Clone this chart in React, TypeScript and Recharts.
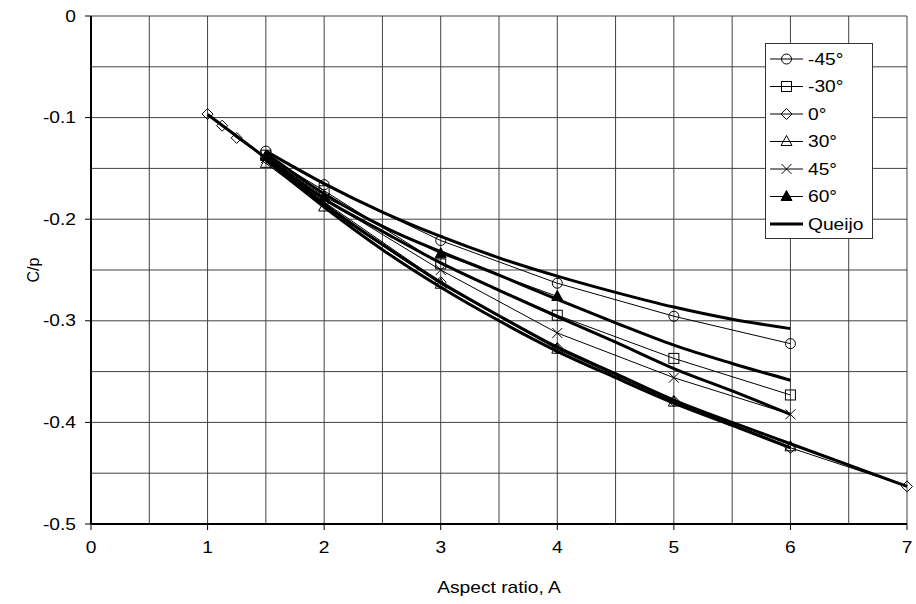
import { LineChart, Line, XAxis, YAxis, CartesianGrid, Legend } from 'recharts';

const FONT = '"Liberation Sans", Arial, sans-serif';
const STRETCH = 1.2;
const TICK_SIZE = 6;
const X_TICK_MARGIN = 12;
const Y_TICK_MARGIN = 9;

// aspect ratios (x) of each series
const aspectMain = [1.5, 2, 3, 4, 5, 6];
const aspectZero = [1, 1.125, 1.25, 1.5, 2, 3, 4, 5, 6, 7];
const aspect60 = [1.5, 2, 3, 4];
const aspectQueijo = [1.5, 2, 2.5, 3, 3.5, 4, 4.5, 5, 5.5, 6];
const aspectQueijoZero = [1, 1.5, 2, 2.5, 3, 3.5, 4, 4.5, 5, 5.5, 6, 7];

// measured C/p per angle
const cpMinus45 = [-0.133, -0.166, -0.221, -0.263, -0.2955, -0.3225];
const cpMinus30 = [-0.137, -0.172, -0.244, -0.2945, -0.337, -0.373];
const cpZero = [-0.0965, -0.108, -0.12, -0.14, -0.183, -0.262, -0.327, -0.379, -0.425, -0.463];
const cp30 = [-0.145, -0.188, -0.264, -0.328, -0.38, -0.424];
const cp45 = [-0.14, -0.18, -0.25, -0.312, -0.356, -0.392];
const cp60 = [-0.138, -0.178, -0.234, -0.276];

// Queijo curves
const queijoMinus45 = [-0.133, -0.165, -0.193, -0.217, -0.238, -0.256, -0.272, -0.2865, -0.2985, -0.3077];
const queijoMinus30 = [-0.135, -0.175, -0.207, -0.232, -0.255, -0.279, -0.302, -0.324, -0.342, -0.3585];
const queijo45 = [-0.138, -0.18, -0.212, -0.243, -0.27, -0.296, -0.321, -0.347, -0.369, -0.392];
const queijo30 = [-0.142, -0.188, -0.23, -0.267, -0.3, -0.33, -0.356, -0.381, -0.403, -0.425];
const queijoZero = [-0.097, -0.14, -0.185, -0.225, -0.262, -0.295, -0.326, -0.352, -0.378, -0.4, -0.421, -0.463];

const xTicks = [0, 0.5, 1, 1.5, 2, 2.5, 3, 3.5, 4, 4.5, 5, 5.5, 6, 6.5, 7];
const yTicks = [0, -0.05, -0.1, -0.15, -0.2, -0.25, -0.3, -0.35, -0.4, -0.45, -0.5];

const legendNames = ['-45°', '-30°', '0°', '30°', '45°', '60°', 'Queijo'];
const legendKinds = ['circle', 'square', 'diamond', 'triangle', 'cross', 'filled', 'none'];

const toPoints = (xs: number[], ys: number[]) => xs.map((a, i) => ({ a, cp: ys[i] }));

function Marker({ kind, cx, cy }: { kind: string; cx: number; cy: number }) {
  const common = { fill: 'none', stroke: '#000', strokeWidth: 1 };
  switch (kind) {
    case 'circle':
      return <circle cx={cx} cy={cy} r={5} {...common} />;
    case 'square':
      return <rect x={cx - 5} y={cy - 5} width={10} height={10} {...common} />;
    case 'diamond':
      return <path d={`M${cx},${cy - 5.5}L${cx + 5.5},${cy}L${cx},${cy + 5.5}L${cx - 5.5},${cy}Z`} {...common} />;
    case 'triangle':
      return <path d={`M${cx},${cy - 6}L${cx + 5.5},${cy + 4}L${cx - 5.5},${cy + 4}Z`} {...common} />;
    case 'cross':
      return <path d={`M${cx - 5},${cy - 5}L${cx + 5},${cy + 5}M${cx + 5},${cy - 5}L${cx - 5},${cy + 5}`} {...common} />;
    case 'filled':
      return <path d={`M${cx},${cy - 6}L${cx + 5.5},${cy + 4}L${cx - 5.5},${cy + 4}Z`} fill="#000" stroke="#000" />;
    default:
      return null;
  }
}

function WideText({ x, y, anchor, dy, children }: any) {
  return (
    <text
      transform={`translate(${x},${y}) scale(${STRETCH},1)`}
      textAnchor={anchor}
      dy={dy}
      fontSize={16}
      fontFamily={FONT}
      fill="#000"
    >
      {children}
    </text>
  );
}

const isStep = (v: number, step: number) => Math.abs(v / step - Math.round(v / step)) < 1e-6;

function XTick(props: any) {
  const { x, y, payload } = props;
  if (!isStep(payload.value, 1)) return <g />;
  return (
    <g>
      <line x1={x} x2={x} y1={y - X_TICK_MARGIN - TICK_SIZE} y2={y - X_TICK_MARGIN} stroke="#000" />
      <WideText x={x} y={y} anchor="middle" dy="0.71em">{payload.value}</WideText>
    </g>
  );
}

function YTick(props: any) {
  const { x, y, payload } = props;
  if (!isStep(payload.value, 0.1)) return <g />;
  const v = payload.value;
  return (
    <g>
      <line x1={x + Y_TICK_MARGIN} x2={x + Y_TICK_MARGIN + TICK_SIZE} y1={y} y2={y} stroke="#000" />
      <WideText x={x} y={y} anchor="end" dy="0.355em">{Math.abs(v) < 1e-9 ? '0' : v.toFixed(1)}</WideText>
    </g>
  );
}

function LegendBox() {
  return (
    <svg width={108} height={197} style={{ display: 'block' }}>
      <rect x={0.5} y={0.5} width={107} height={195} fill="#fff" stroke="#333" />
      {legendNames.map((name, i) => {
        const cy = 16 + i * 27.5;
        const thick = legendKinds[i] === 'none';
        return (
          <g key={name}>
            <line x1={5} x2={38} y1={cy} y2={cy} stroke="#000" strokeWidth={thick ? 3 : 1} />
            <Marker kind={legendKinds[i]} cx={21.5} cy={cy} />
            <WideText x={43} y={cy} anchor="start" dy="0.355em">{name}</WideText>
          </g>
        );
      })}
    </svg>
  );
}

const measured = [
  { pts: toPoints(aspectMain, cpMinus45), kind: 'circle' },
  { pts: toPoints(aspectMain, cpMinus30), kind: 'square' },
  { pts: toPoints(aspectZero, cpZero), kind: 'diamond' },
  { pts: toPoints(aspectMain, cp30), kind: 'triangle' },
  { pts: toPoints(aspectMain, cp45), kind: 'cross' },
  { pts: toPoints(aspect60, cp60), kind: 'filled' },
];

const queijo = [
  toPoints(aspectQueijo, queijoMinus45),
  toPoints(aspectQueijo, queijoMinus30),
  toPoints(aspectQueijo, queijo45),
  toPoints(aspectQueijo, queijo30),
  toPoints(aspectQueijoZero, queijoZero),
];

export default function App() {
  return (
    <div style={{ position: 'absolute', left: 0, top: 0, width: 916, height: 604, background: '#fff' }}>
      <LineChart width={916} height={604} margin={{ top: 16, right: 9, left: 0, bottom: 20 }}>
        <CartesianGrid stroke="#404040" strokeWidth={1} />
        <XAxis
          type="number"
          dataKey="a"
          domain={[0, 7]}
          ticks={xTicks}
          interval={0}
          height={60}
          tickSize={TICK_SIZE}
          tickMargin={X_TICK_MARGIN}
          tickLine={false}
          tick={<XTick />}
          axisLine={{ stroke: '#000', strokeWidth: 2 }}
          label={{
            content: (p: any) => (
              <WideText x={p.viewBox.x + p.viewBox.width / 2} y={587} anchor="middle" dy="0.355em">
                Aspect ratio, A
              </WideText>
            ),
          }}
        />
        <YAxis
          type="number"
          domain={[-0.5, 0]}
          ticks={yTicks}
          interval={0}
          width={91}
          tickSize={TICK_SIZE}
          tickMargin={Y_TICK_MARGIN}
          tickLine={false}
          tick={<YTick />}
          axisLine={{ stroke: '#000', strokeWidth: 2 }}
          label={{
            content: (p: any) => {
              const cy = p.viewBox.y + p.viewBox.height / 2;
              return (
                <text
                  transform={`translate(33,${cy}) rotate(-90)`}
                  textAnchor="middle"
                  dy="0.355em"
                  fontSize={16}
                  fontFamily={FONT}
                  fill="#000"
                >
                  C/p
                </text>
              );
            },
          }}
        />
        {queijo.map((pts, i) => (
          <Line
            key={`q${i}`}
            data={pts}
            dataKey="cp"
            type="monotone"
            stroke="#000"
            strokeWidth={3}
            dot={false}
            activeDot={false}
            legendType="none"
            isAnimationActive={false}
          />
        ))}
        {measured.map((s, i) => (
          <Line
            key={`m${i}`}
            data={s.pts}
            dataKey="cp"
            type="linear"
            stroke="#000"
            strokeWidth={1}
            dot={(p: any) => <Marker key={`d${i}-${p.index}`} kind={s.kind} cx={p.cx} cy={p.cy} />}
            activeDot={false}
            isAnimationActive={false}
          />
        ))}
        <Legend
          layout="vertical"
          align="center"
          verticalAlign="middle"
          content={() => <LegendBox />}
          wrapperStyle={{ left: 765, top: 43, width: 108, height: 197 }}
        />
      </LineChart>
    </div>
  );
}
